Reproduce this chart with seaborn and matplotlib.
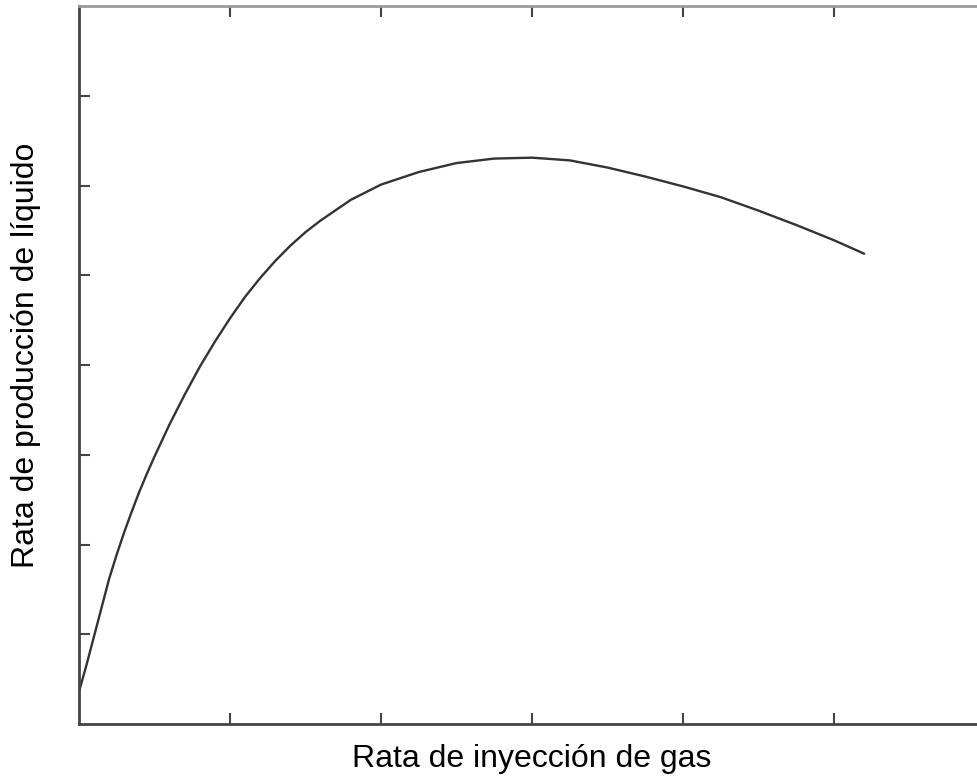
import matplotlib
matplotlib.use("Agg")
import matplotlib.pyplot as plt
import seaborn as sns
import pandas as pd

# Data (arbitrary units, no tick labels)
gas_rate = [0.0, 0.05, 0.10, 0.15, 0.20, 0.25, 0.30, 0.35, 0.40, 0.45, 0.50,
            0.60, 0.70, 0.80, 0.90, 1.00, 1.10, 1.20, 1.30, 1.40, 1.50, 1.60,
            1.80, 2.00, 2.25, 2.50, 2.75, 3.00, 3.25, 3.50, 3.75, 4.00, 4.25,
            4.50, 4.75, 5.00, 5.20]
liquid_rate = [0.36, 0.66, 0.98, 1.30, 1.62, 1.89, 2.14, 2.37, 2.59, 2.79, 2.98,
               3.34, 3.67, 3.98, 4.26, 4.52, 4.76, 4.97, 5.16, 5.33, 5.48, 5.61,
               5.84, 6.01, 6.15, 6.25, 6.30, 6.31, 6.28, 6.20, 6.10, 5.99, 5.87,
               5.72, 5.56, 5.39, 5.24]
x_ticks = [1, 2, 3, 4, 5]
y_ticks = [1, 2, 3, 4, 5, 6, 7]
x_label = "Rata de inyección de gas"
y_label = "Rata de producción de líquido"

df = pd.DataFrame({"gas": gas_rate, "liq": liquid_rate})

sns.set_style("white")
plt.rcParams["font.family"] = ["Liberation Sans", "DejaVu Sans"]

fig = plt.figure(figsize=(9.77, 7.76), dpi=100)
ax = fig.add_axes([79 / 977, 52 / 776, (985 - 79) / 977, (724 - 6) / 776])

sns.lineplot(data=df, x="gas", y="liq", ax=ax, color="#333333", linewidth=1.7,
             sort=False, estimator=None)

ax.set_xlim(0, 6)
ax.set_ylim(0, 8)
ax.set_xticks(x_ticks)
ax.set_yticks(y_ticks)
ax.set_xticklabels([])
ax.set_yticklabels([])
ax.tick_params(axis="both", which="both", direction="in", length=8, width=1.5,
               color="#444444", top=True, bottom=True, left=True, right=False)

for side in ["left", "bottom"]:
    ax.spines[side].set_color("#444444")
    ax.spines[side].set_linewidth(2)
ax.spines["top"].set_color("#999999")
ax.spines["top"].set_linewidth(2)
ax.spines["right"].set_visible(False)

ax.set_xlabel(x_label, fontsize=23, color="black", labelpad=11)
ax.set_ylabel(y_label, fontsize=23, color="black", labelpad=24)
ax.yaxis.label.set_y(0.514)

fig.savefig("out.png", dpi=100)
